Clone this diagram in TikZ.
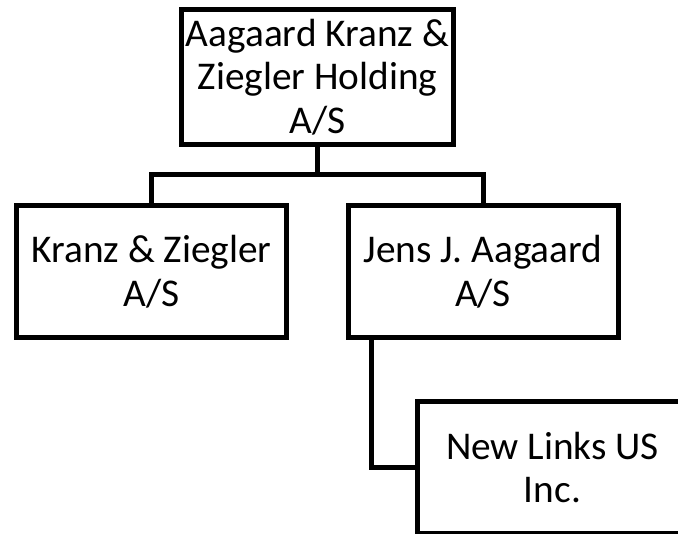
\documentclass[tikz,border=0pt]{standalone}
\usepackage{fontspec}
\setmainfont{Carlito}

\begin{document}
\begin{tikzpicture}[x=1pt,y=-1pt,line width=5pt,
        firm/.style={draw, minimum width=270pt, minimum height=132pt, inner sep=0pt, align=center, font=\fontsize{39.3}{43.5}\selectfont}]
        \useasboundingbox (0,0) rectangle (678,534);
        \clip (0,0) rectangle (678,534);

        \node[firm, minimum width=272pt, minimum height=135pt](akz) at (317.5,77) {Aagaard Kranz \&\\Ziegler Holding\\A/S};
        \node[firm](kz) at (151.5,271.5) {Kranz \& Ziegler\\A/S};
        \node[firm](jja) at (483,271.5) {Jens J. Aagaard\\A/S};
        \node[firm](nl) at (552.5,467.5) {New Links US\\Inc.};

        \coordinate (bus) at (317.5,175);
        \draw (akz.south)--(bus)-|(kz.north);
        \draw (bus)-|(jja.north);
        \draw ([xshift=25.5pt]jja.south west)|-(nl.west);
    \end{tikzpicture}
\end{document}
